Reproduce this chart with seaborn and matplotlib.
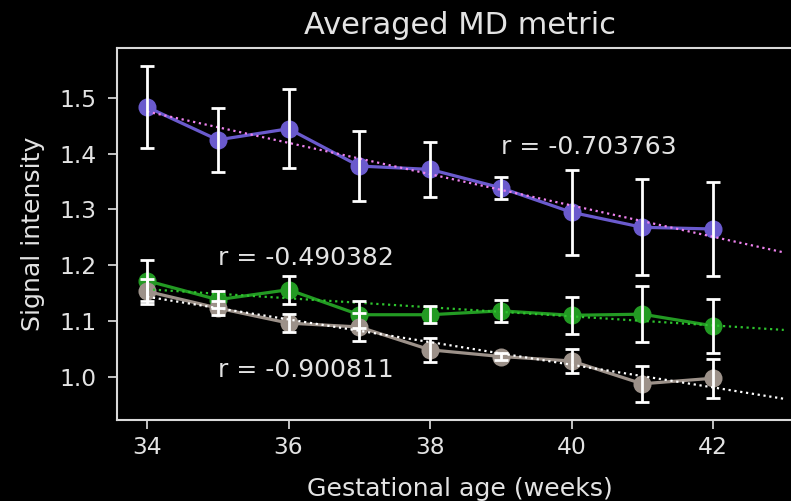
import numpy as np
import pandas as pd
import matplotlib
matplotlib.use("Agg")
import matplotlib.pyplot as plt
import seaborn as sns

# gestational age (weeks)
weeks = [34, 35, 36, 37, 38, 39, 40, 41, 42]

# mean signal intensity and error per group
purple_mean = [1.484, 1.425, 1.445, 1.378, 1.372, 1.339, 1.295, 1.268, 1.265]
purple_err = [0.074, 0.058, 0.071, 0.063, 0.049, 0.020, 0.076, 0.086, 0.084]
green_mean = [1.172, 1.138, 1.156, 1.111, 1.111, 1.118, 1.110, 1.112, 1.091]
green_err = [0.037, 0.015, 0.025, 0.024, 0.015, 0.020, 0.033, 0.050, 0.049]
gray_mean = [1.153, 1.123, 1.096, 1.089, 1.048, 1.036, 1.028, 0.987, 0.997]
gray_err = [0.022, 0.012, 0.016, 0.026, 0.022, 0.006, 0.022, 0.032, 0.035]

r_labels = ["r = -0.703763", "r = -0.490382", "r = -0.900811"]
r_pos = [(39, 1.4), (35, 1.2), (35, 1.0)]

series = [
    (purple_mean, purple_err, "#6a5acd", "violet"),
    (green_mean, green_err, "#239a23", "#2ec42e"),
    (gray_mean, gray_err, "#9c9189", "white"),
]

plt.style.use("dark_background")
fig = plt.figure(figsize=(7.91, 5.01), dpi=100)
ax = fig.add_axes([0.148, 0.1617, 0.867, 0.7425])

for mean, err, col, fit_col in series:
    df = pd.DataFrame({"week": weeks, "value": mean})
    sns.lineplot(data=df, x="week", y="value", color=col, marker="o",
                 markersize=13, markeredgewidth=0, linewidth=2.3, ax=ax, zorder=2)
    # linear fit over the means, extended one week
    slope, icpt = np.polyfit(weeks, mean, 1)
    xs = np.linspace(weeks[0], weeks[-1] + 1, 50)
    ax.plot(xs, slope * xs + icpt, linestyle=":", color=fit_col, linewidth=1.6, zorder=3)
    ax.errorbar(weeks, mean, yerr=err, fmt="none", ecolor="white",
                elinewidth=2, capsize=5, capthick=2, zorder=4)

for txt, (tx, ty) in zip(r_labels, r_pos):
    ax.text(tx, ty, txt, fontsize=18, color="#e3e3e3")

ax.set_xlim(33.576, 43.27)
ax.set_ylim(0.922, 1.590)
ax.set_xticks([34, 36, 38, 40, 42])
ax.set_yticks([1.0, 1.1, 1.2, 1.3, 1.4, 1.5])
ax.tick_params(labelsize=16.8, colors="#e3e3e3", length=6.5, width=1.2)
ax.tick_params(axis="y", pad=8.5)
ax.tick_params(axis="x", pad=5)
for s in ax.spines.values():
    s.set_color("#d9d9d9")
    s.set_linewidth(1.5)
ax.set_xlabel("Gestational age (weeks)", fontsize=18.2, color="#e3e3e3", labelpad=13)
ax.set_ylabel("Signal intensity", fontsize=18.2, color="#e3e3e3", labelpad=10)
ax.set_title("Averaged MD metric", fontsize=22, color="#e3e3e3", pad=10)

fig.savefig("out.png", dpi=100)
